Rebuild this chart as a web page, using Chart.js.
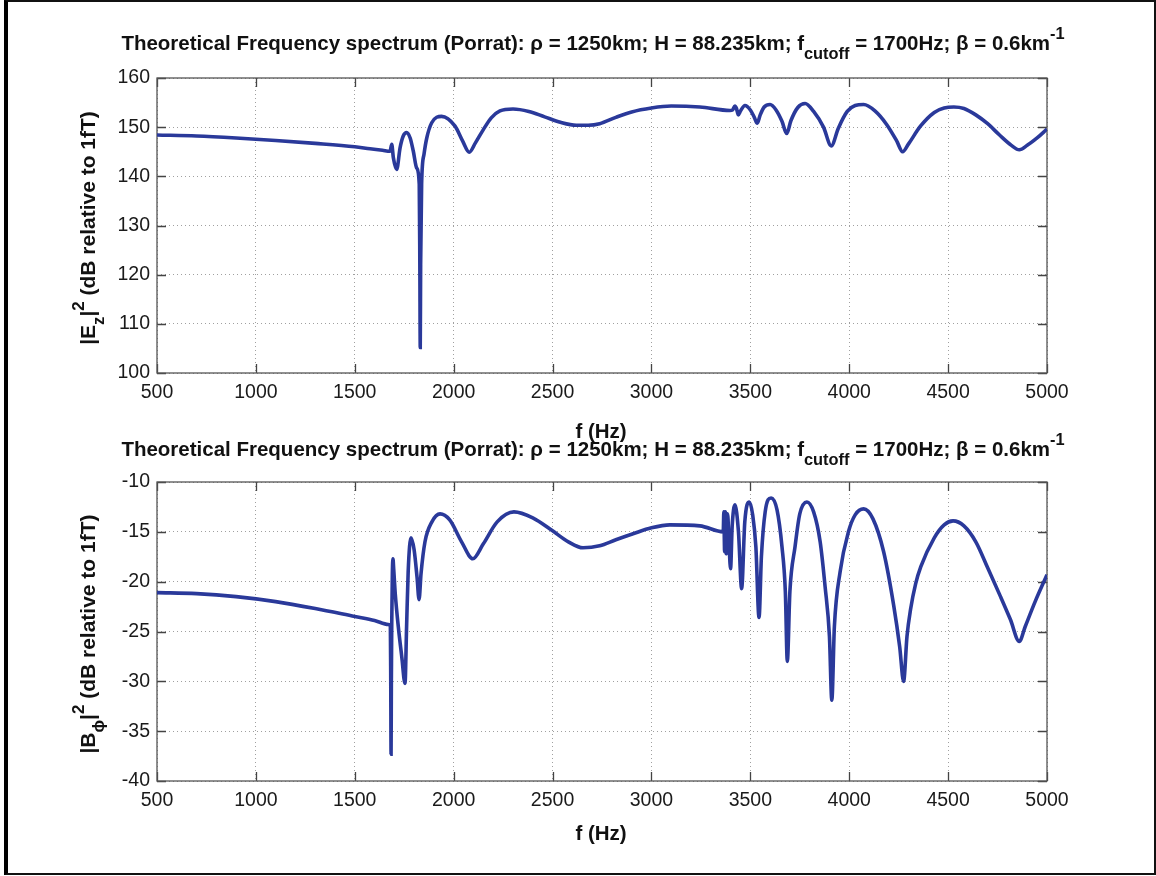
<!DOCTYPE html>
<html>
<head>
<meta charset="utf-8">
<script src="https://cdn.jsdelivr.net/npm/chart.js@4.4.1/dist/chart.umd.min.js"></script>
<style>
  html, body { margin: 0; padding: 0; background: #fff; }
  #fig { position: relative; width: 1156px; height: 876px; background: #fff; overflow: hidden;
         font-family: "Liberation Sans", Arial, sans-serif; color: #111; }
  #frame { position: absolute; left: 4px; top: 0; width: 1146px; height: 871px;
           border-left: 4px solid #000; border-right: 2px solid #111;
           border-top: 2px solid #111; border-bottom: 2px solid #111; box-sizing: content-box; }
  canvas { position: absolute; left: 0; }
  .title { position: absolute; left: 0; width: 1186px; text-align: center; font-weight: bold;
           font-size: 20.5px; white-space: nowrap; line-height: 24px; }
  .xlab { position: absolute; left: 0; width: 1202px; text-align: center; font-weight: bold;
          font-size: 20.5px; line-height: 24px; }
  .ylab { position: absolute; font-weight: bold; font-size: 21px; white-space: nowrap;
          line-height: 24px; transform: translate(-50%, -50%) rotate(-90deg); }
  sub { font-size: 0.8em; vertical-align: -0.55em; line-height: 0; }
  sup { font-size: 0.8em; vertical-align: 0.65em; line-height: 0; }
</style>
</head>
<body>
<div id="fig">
  <canvas id="ezChart" width="1156" height="440" style="top:0"></canvas>
  <canvas id="bphiChart" width="1156" height="436" style="top:440px"></canvas>

  <div class="title" style="top:31px">Theoretical Frequency spectrum (Porrat): ρ = 1250km; H = 88.235km; f<sub>cutoff</sub> = 1700Hz; β = 0.6km<sup>-1</sup></div>
  <div class="xlab" style="top:419px">f (Hz)</div>
  <div class="ylab" style="left:88px; top:228px">|E<sub>z</sub>|<sup>2</sup> (dB relative to 1fT)</div>

  <div class="title" style="top:437px">Theoretical Frequency spectrum (Porrat): ρ = 1250km; H = 88.235km; f<sub>cutoff</sub> = 1700Hz; β = 0.6km<sup>-1</sup></div>
  <div class="xlab" style="top:821px">f (Hz)</div>
  <div class="ylab" style="left:88px; top:634px">|B<sub>ϕ</sub>|<sup>2</sup> (dB relative to 1fT)</div>

  <div id="frame"></div>
</div>

<script>
// Frequency axis ticks (Hz)
const freqTicks = [500, 1000, 1500, 2000, 2500, 3000, 3500, 4000, 4500, 5000];
// Level axis ticks
const ezTicks = [100, 110, 120, 130, 140, 150, 160];
const bphiTicks = [-40, -35, -30, -25, -20, -15, -10];

// |Ez|^2 spectrum: frequency (Hz) and level (dB re 1 fT)
const ezFreq = [
  500, 700, 900, 1100, 1300, 1500, 1577, 1640, 1678, 1687, 1695, 1712, 1729, 1745, 1762,
  1780, 1796, 1813, 1826, 1829, 1831, 1833, 1838, 1850, 1864, 1889, 1939, 2007, 2045, 2079,
  2110, 2150, 2190, 2234, 2300, 2380, 2460, 2540, 2620, 2680, 2738, 2820, 2900, 3000, 3100,
  3245, 3397, 3410, 3422, 3430, 3439, 3450, 3473, 3500, 3520, 3535, 3550, 3570, 3600, 3630,
  3660, 3684, 3705, 3740, 3777, 3820, 3870, 3909, 3945, 3990, 4030, 4073, 4130, 4190, 4240,
  4270, 4300, 4360, 4430, 4480, 4529, 4580, 4640, 4700, 4760, 4820, 4860, 4900, 4950, 5000
];
const ezLevel = [
  148.4, 148.2, 147.8, 147.3, 146.7, 146.0, 145.6, 145.3, 145.1, 146.5, 143.8, 141.4, 145.8, 148.2, 148.9,
  147.8, 145.1, 141.7, 138.4, 122.0, 105.2, 122.0, 138.5, 144.5, 147.8, 150.9, 152.2, 150.2, 147.2, 144.9,
  146.8, 149.5, 151.9, 153.3, 153.7, 153.2, 152.1, 151.0, 150.4, 150.4, 150.7, 152.0, 153.1, 153.9, 154.3,
  154.1, 153.4, 153.5, 154.3, 153.8, 152.5, 153.3, 154.4, 153.5, 152.0, 150.8, 152.5, 154.1, 154.6, 153.5,
  151.2, 148.7, 151.3, 154.0, 154.8, 153.2, 150.0, 146.2, 149.8, 153.2, 154.4, 154.6, 153.3, 150.5, 147.2,
  145.0, 146.6, 150.2, 153.0, 153.9, 154.1, 153.8, 152.5, 150.7, 148.4, 146.3, 145.4, 146.3, 147.8, 149.6
];

// |Bphi|^2 spectrum: frequency (Hz) and level (dB re 1 fT)
const bphiFreq = [
  500, 700, 900, 1100, 1300, 1500, 1600, 1670, 1680, 1682, 1683.5, 1685, 1687, 1690, 1693,
  1697, 1705, 1720, 1738, 1754, 1762, 1770, 1784, 1800, 1815, 1825, 1835, 1855, 1890, 1931,
  1980, 2040, 2097, 2150, 2220, 2305, 2400, 2500, 2580, 2654, 2738, 2820, 2907, 3000, 3093,
  3245, 3363, 3366, 3370, 3374, 3378, 3385, 3392, 3400, 3408, 3422, 3440, 3456, 3472, 3495,
  3512, 3528, 3544, 3556, 3575, 3605, 3635, 3660, 3677, 3687, 3700, 3726, 3750, 3786, 3820,
  3853, 3878, 3900, 3912, 3925, 3954, 3996, 4030, 4073, 4120, 4174, 4225, 4255, 4275, 4292,
  4310, 4336, 4362, 4430, 4480, 4525, 4580, 4640, 4700, 4765, 4815, 4860, 4890, 4940, 5000
];
const bphiLevel = [
  -21.1, -21.2, -21.5, -22.0, -22.7, -23.5, -23.9, -24.3, -24.5, -30.5, -37.3, -30.0, -24.0, -19.2, -17.7,
  -18.8, -21.3, -24.5, -27.6, -30.2, -24.5, -19.0, -15.6, -16.8, -19.6, -21.8, -19.2, -16.0, -14.0, -13.2,
  -13.8, -16.0, -17.7, -16.2, -14.0, -13.0, -13.6, -14.9, -16.0, -16.6, -16.4, -15.8, -15.2, -14.6, -14.3,
  -14.4, -15.0, -13.0, -17.0, -13.0, -17.2, -13.2, -16.0, -18.7, -14.5, -12.3, -15.0, -20.7, -14.0, -12.0,
  -13.3, -16.5, -23.6, -17.5, -13.0, -11.6, -12.8, -16.5, -21.0, -28.0, -21.0, -16.5, -13.2, -12.0, -13.0,
  -16.0, -20.5, -25.5, -31.9, -24.5, -19.0, -15.0, -13.3, -12.7, -13.7, -17.0, -22.4, -26.5, -30.0, -25.5,
  -22.8, -20.2, -18.5, -15.6, -14.3, -13.9, -14.4, -16.0, -18.6, -21.5, -23.8, -26.0, -24.5, -22.0, -19.3
];

const LINE_COLOR = '#2a399a';
const TICK_FONT = { family: "'Liberation Sans', Arial, sans-serif", size: 19.5 };

// Axes box and inward tick marks, drawn under the curve
const axesBox = {
  id: 'axesBox',
  beforeDatasetsDraw(chart) {
    const { ctx, chartArea: a, scales } = chart;
    const len = 9;
    ctx.save();
    ctx.strokeStyle = '#444';
    ctx.lineWidth = 1.3;
    ctx.beginPath();
    scales.x.ticks.forEach(t => {
      const px = Math.round(scales.x.getPixelForValue(t.value)) + 0.5;
      ctx.moveTo(px, a.bottom); ctx.lineTo(px, a.bottom - len);
      ctx.moveTo(px, a.top); ctx.lineTo(px, a.top + len);
    });
    scales.y.ticks.forEach(t => {
      const py = Math.round(scales.y.getPixelForValue(t.value)) + 0.5;
      ctx.moveTo(a.left, py); ctx.lineTo(a.left + len, py);
      ctx.moveTo(a.right, py); ctx.lineTo(a.right - len, py);
    });
    ctx.stroke();
    ctx.strokeStyle = '#555';
    ctx.strokeRect(a.left, a.top, a.right - a.left, a.bottom - a.top);
    ctx.restore();
  }
};

function makeChart(id, freq, level, yTicks, pad) {
  const points = freq.map((f, i) => ({ x: f, y: level[i] }));
  return new Chart(document.getElementById(id), {
    type: 'line',
    data: {
      datasets: [{
        data: points,
        borderColor: LINE_COLOR,
        borderWidth: 3.6,
        pointRadius: 0,
        cubicInterpolationMode: 'monotone',
        fill: false
      }]
    },
    options: {
      responsive: false,
      animation: false,
      events: [],
      layout: { padding: pad },
      plugins: { legend: { display: false }, title: { display: false }, tooltip: { enabled: false } },
      scales: {
        x: {
          type: 'linear',
          min: freqTicks[0],
          max: freqTicks[freqTicks.length - 1],
          afterBuildTicks: s => { s.ticks = freqTicks.map(v => ({ value: v })); },
          afterFit: s => { s.height = 40; },
          ticks: { autoSkip: false, maxRotation: 0, padding: 8, color: '#1a1a1a', font: TICK_FONT,
                   callback: v => String(v) },
          grid: { color: '#a0a0a0', lineWidth: 1, drawTicks: false },
          border: { display: false, dash: [1, 3] }
        },
        y: {
          type: 'linear',
          min: yTicks[0],
          max: yTicks[yTicks.length - 1],
          afterBuildTicks: s => { s.ticks = yTicks.map(v => ({ value: v })); },
          afterFit: s => { s.width = 157; },
          ticks: { autoSkip: false, padding: 7, color: '#1a1a1a', font: TICK_FONT,
                   callback: v => String(v) },
          grid: { color: '#a0a0a0', lineWidth: 1, drawTicks: false },
          border: { display: false, dash: [1, 3] }
        }
      }
    },
    plugins: [axesBox]
  });
}

makeChart('ezChart', ezFreq, ezLevel, ezTicks, { top: 78, right: 109, bottom: 27, left: 0 });
makeChart('bphiChart', bphiFreq, bphiLevel, bphiTicks, { top: 42, right: 109, bottom: 55, left: 0 });
</script>
</body>
</html>
